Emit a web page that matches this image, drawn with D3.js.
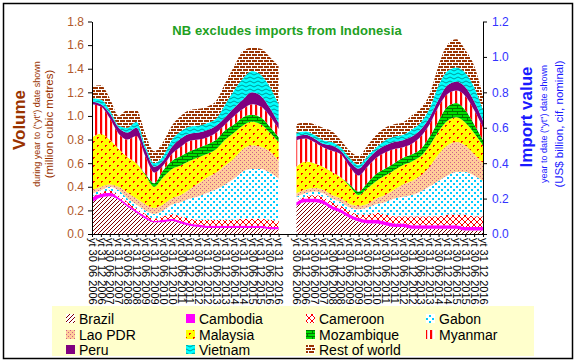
<!DOCTYPE html>
<html><head><meta charset="utf-8">
<script src="https://cdn.jsdelivr.net/npm/d3@7"></script>
<style>body{margin:0;background:#fff}svg{display:block}text{font-family:"Liberation Sans",Arial,sans-serif}</style>
</head><body><svg id="c" width="576" height="362"></svg>
<script>
// ---- DATA ----
const tickLabels = ["yt 30 06 2006","yt 31 12 2006","yt 30 06 2007","yt 31 12 2007","yt 30 06 2008","yt 31 12 2008","yt 30 06 2009","yt 31 12 2009","yt 30 06 2010","yt 31 12 2010","yt 30 06 2011","yt 31 12 2011","yt 30 06 2012","yt 31 12 2012","yt 30 06 2013","yt 31 12 2013","yt 30 06 2014","yt 31 12 2014","yt 30 06 2015","yt 31 12 2015","yt 30 06 2016","yt 31 12 2016"];
const seriesNames = ["Brazil","Cambodia","Cameroon","Gabon","Lao PDR","Malaysia","Mozambique","Myanmar","Peru","Vietnam","Rest of world"];
const volTicks = [0,0.2,0.4,0.6,0.8,1.0,1.2,1.4,1.6,1.8];
const valTicks = [0,0.2,0.4,0.6,0.8,1.0,1.2];

// Volume (million m3), year-to-date
const volBrazil     = [0.27,0.31,0.32,0.29,0.23,0.18,0.13,0.10,0.10,0.11,0.09,0.07,0.06,0.05,0.05,0.05,0.05,0.05,0.05,0.05,0.04,0.04];
const volCambodia   = [0.04,0.03,0.03,0.02,0.02,0.02,0.02,0.01,0.02,0.02,0.02,0.02,0.02,0.02,0.02,0.02,0.02,0.02,0.02,0.02,0.02,0.02];
const volCameroon   = [0.01,0.01,0.02,0.02,0.02,0.02,0.02,0.02,0.03,0.04,0.04,0.04,0.04,0.05,0.05,0.05,0.05,0.06,0.06,0.06,0.06,0.05];
const volGabon      = [0.02,0.02,0.03,0.04,0.03,0.03,0.03,0.04,0.05,0.08,0.12,0.17,0.20,0.23,0.26,0.30,0.35,0.40,0.42,0.42,0.40,0.36];
const volLao        = [0.03,0.03,0.02,0.03,0.05,0.05,0.05,0.05,0.05,0.05,0.06,0.08,0.11,0.13,0.14,0.16,0.17,0.19,0.20,0.19,0.18,0.15];
const volMalaysia   = [0.45,0.45,0.38,0.32,0.30,0.30,0.25,0.18,0.23,0.25,0.25,0.24,0.22,0.20,0.20,0.22,0.22,0.20,0.20,0.19,0.16,0.16];
const volMozambique = [0,0,0,0,0,0,0.01,0.03,0.06,0.07,0.08,0.08,0.08,0.08,0.08,0.08,0.07,0.07,0.06,0.06,0.05,0.04];
const volMyanmar    = [0.28,0.23,0.18,0.13,0.15,0.23,0.15,0.09,0.04,0.06,0.08,0.09,0.07,0.06,0.06,0.05,0.07,0.07,0.09,0.09,0.09,0.07];
const volPeru       = [0.02,0.02,0.04,0.05,0.06,0.07,0.06,0.05,0.04,0.06,0.07,0.06,0.06,0.06,0.06,0.06,0.07,0.08,0.10,0.09,0.07,0.05];
const volVietnam    = [0.03,0.04,0.03,0.02,0.04,0.05,0.03,0.03,0.04,0.06,0.06,0.06,0.06,0.06,0.06,0.11,0.15,0.18,0.18,0.18,0.18,0.16];
const volRest       = [0.10,0.12,0.10,0.08,0.15,0.10,0.10,0.10,0.12,0.12,0.13,0.14,0.14,0.14,0.15,0.18,0.20,0.23,0.20,0.22,0.25,0.32];

// Import value (US$ billion), year-to-date
const valBrazil     = [0.16,0.18,0.18,0.17,0.14,0.12,0.09,0.07,0.06,0.06,0.05,0.04,0.04,0.03,0.03,0.03,0.03,0.03,0.03,0.02,0.02,0.02];
const valCambodia   = [0.02,0.02,0.02,0.02,0.02,0.02,0.02,0.02,0.02,0.02,0.02,0.02,0.02,0.02,0.02,0.02,0.02,0.02,0.02,0.02,0.02,0.02];
const valCameroon   = [0.01,0.01,0.02,0.02,0.02,0.02,0.02,0.02,0.03,0.04,0.04,0.04,0.04,0.05,0.05,0.05,0.05,0.06,0.06,0.07,0.06,0.06];
const valGabon      = [0.02,0.02,0.02,0.02,0.02,0.02,0.02,0.03,0.04,0.05,0.07,0.10,0.11,0.12,0.14,0.17,0.20,0.22,0.24,0.24,0.23,0.20];
const valLao        = [0.02,0.02,0.02,0.02,0.02,0.02,0.02,0.02,0.02,0.03,0.04,0.05,0.07,0.08,0.09,0.11,0.15,0.17,0.17,0.15,0.12,0.10];
const valMalaysia   = [0.15,0.16,0.14,0.13,0.13,0.12,0.10,0.06,0.09,0.10,0.11,0.11,0.11,0.11,0.11,0.12,0.13,0.14,0.14,0.13,0.12,0.10];
const valMozambique = [0,0,0,0,0,0,0.01,0.02,0.03,0.04,0.04,0.04,0.04,0.04,0.04,0.05,0.06,0.08,0.08,0.07,0.05,0.03];
const valMyanmar    = [0.15,0.13,0.12,0.11,0.12,0.13,0.10,0.09,0.09,0.09,0.09,0.08,0.06,0.06,0.07,0.07,0.08,0.07,0.07,0.08,0.08,0.07];
const valPeru       = [0.02,0.02,0.02,0.02,0.03,0.02,0.03,0.04,0.04,0.04,0.04,0.04,0.04,0.04,0.04,0.04,0.04,0.05,0.05,0.05,0.05,0.04];
const valVietnam    = [0.02,0.02,0.02,0.02,0.02,0.02,0.02,0.02,0.02,0.02,0.03,0.03,0.03,0.04,0.04,0.05,0.08,0.08,0.08,0.08,0.08,0.06];
const valRest       = [0.05,0.05,0.06,0.07,0.06,0.04,0.04,0.05,0.06,0.07,0.07,0.07,0.07,0.08,0.08,0.08,0.11,0.15,0.16,0.13,0.12,0.08];

const volSeries = [volBrazil,volCambodia,volCameroon,volGabon,volLao,volMalaysia,volMozambique,volMyanmar,volPeru,volVietnam,volRest];
const valSeries = [valBrazil,valCambodia,valCameroon,valGabon,valLao,valMalaysia,valMozambique,valMyanmar,valPeru,valVietnam,valRest];

// ---- CHART ----
const svg = d3.select("#c");
const defs = svg.append("defs");
function pat(id,w,h,bg,draw){
  const p = defs.append("pattern").attr("id",id).attr("patternUnits","userSpaceOnUse").attr("width",w).attr("height",h);
  p.append("rect").attr("width",w).attr("height",h).attr("fill",bg);
  draw(p);
}
function px(p,pts,c){ pts.forEach(([a,b,w,h])=>p.append("rect").attr("x",a).attr("y",b).attr("width",w||1).attr("height",h||1).attr("fill",c)); }
pat("pBrazil",4,4,"#fff",p=>{
  p.append("path").attr("d","M0,4L4,0M-1,1L1,-1M3,5L5,3").attr("stroke","#800000").attr("stroke-width",1);
});
pat("pCambodia",4,4,"#ff00ff",p=>{});
pat("pCameroon",6,6,"#fff",p=>{
  p.append("path").attr("d","M0,3L3,0L6,3L3,6Z").attr("fill","none").attr("stroke","#ff0000").attr("stroke-width",1);
});
pat("pGabon",6,6,"#fff",p=>{ px(p,[[0,0,2,2],[3,3,2,2]],"#00ccff"); });
pat("pLao",4,4,"#ffcc99",p=>{ px(p,[[0,0],[2,2]],"#cc5c8c"); });
pat("pMalaysia",8,8,"#ffff00",p=>{ px(p,[[1,1,1,2],[2,1],[5,5,1,2],[6,5]],"#ff0000"); });
pat("pMozambique",10,6,"#00dd00",p=>{
  p.append("path").attr("d","M0,0.5H10M0,3.5H10M2.5,0V3M7.5,3V6").attr("stroke","#007700").attr("stroke-width",1).attr("fill","none");
});
pat("pMyanmar",5,4,"#fff",p=>{ px(p,[[0,0,2.2,4]],"#ff0000"); });
pat("pPeru",4,4,"#800080",p=>{});
pat("pVietnam",8,4,"#00ffff",p=>{
  p.append("path").attr("d","M0,2Q2,0 4,2T8,2").attr("stroke","#009999").attr("stroke-width",1).attr("fill","none");
});
pat("pRest",6,6,"#fff",p=>{ px(p,[[0,0,5,2],[3,3,3,2],[0,3,2,2]],"#993300"); });
const fills = ["pBrazil","pCambodia","pCameroon","pGabon","pLao","pMalaysia","pMozambique","pMyanmar","pPeru","pVietnam","pRest"].map(d=>`url(#${d})`);

// outer frame
svg.append("rect").attr("x",3.5).attr("y",3.5).attr("width",569).attr("height",355).attr("fill","#fff").attr("stroke","#000").attr("stroke-width",1.5);

const x0 = 92, x1 = 483, yTop = 21.5, yBot = 234;
const keysA = tickLabels.map(d=>"A|"+d), keysB = tickLabels.map(d=>"B|"+d);
const xKeys = [...keysA, "gap", ...keysB];
const x = d3.scalePoint().domain(xKeys).range([x0,x1]);
const yVol = d3.scaleLinear().domain([0,1.8]).range([yBot,yTop]);
const yVal = d3.scaleLinear().domain([0,1.2]).range([yBot,yTop]);

function drawPanel(series, keys, y){
  const rows = keys.map((k,i)=>{const o={key:k}; seriesNames.forEach((s,j)=>o[s]=series[j][i]); return o;});
  const st = d3.stack().keys(seriesNames)(rows);
  const area = d3.area().x(d=>x(d.data.key)).y0(d=>y(d[0])).y1(d=>y(d[1])).curve(d3.curveMonotoneX);
  svg.append("g").selectAll("path").data(st).join("path").attr("d",area).attr("fill",(d,i)=>fills[i]);
}
drawPanel(volSeries, keysA, yVol);
drawPanel(valSeries, keysB, yVal);

// axes
const gl = svg.append("g").attr("transform",`translate(${x0},0)`)
  .call(d3.axisLeft(yVol).tickValues(volTicks).tickFormat(d3.format(".1f")).tickSize(4).tickSizeOuter(0));
gl.select(".domain").attr("stroke","#000");
gl.selectAll("text").attr("fill","#b0582a").style("font-size","12px").attr("x",-8);
const gr = svg.append("g").attr("transform",`translate(${x1},0)`)
  .call(d3.axisRight(yVal).tickValues(valTicks).tickFormat(d3.format(".1f")).tickSize(4).tickSizeOuter(0));
gr.selectAll("text").attr("fill","#3333ff").style("font-size","12px").attr("x",9);
const gx = svg.append("g").attr("transform",`translate(0,${yBot})`)
  .call(d3.axisBottom(x).tickSize(3).tickSizeOuter(0).tickFormat(d=>d==="gap"?"":d.slice(2)));
gx.select(".domain").attr("d",`M${x0},0.5H${x1}`);
gx.selectAll("text").attr("transform","rotate(90)").attr("x",4).attr("y",0).attr("dy","0.35em")
  .style("text-anchor","start").style("font-size","11px").attr("fill","#000");

// titles
svg.append("text").attr("x",287).attr("y",35).attr("text-anchor","middle").attr("fill","#22a022")
  .style("font-size","13px").style("letter-spacing","0.1px").style("font-weight","bold").text("NB excludes imports from Indonesia");
const lt = svg.append("g").attr("fill","#993300");
lt.append("text").attr("transform","translate(25,120) rotate(-90)").attr("text-anchor","middle").style("font-size","17px").style("font-weight","bold").text("Volume");
lt.append("text").attr("transform","translate(40,124) rotate(-90)").attr("text-anchor","middle").style("font-size","9px").text("during year to (\"yt\") date shown");
lt.append("text").attr("transform","translate(53,124) rotate(-90)").attr("text-anchor","middle").style("font-size","11.5px").text("(million cubic metres)");
const rt = svg.append("g").attr("fill","#1a1aff");
rt.append("text").attr("transform","translate(532,117) rotate(-90)").attr("text-anchor","middle").style("font-size","17px").style("font-weight","bold").text("Import value");
rt.append("text").attr("transform","translate(547,124) rotate(-90)").attr("text-anchor","middle").style("font-size","9px").text("year to date (\"yt\") date shown");
rt.append("text").attr("transform","translate(563,124) rotate(-90)").attr("text-anchor","middle").style("font-size","11.5px").text("(US$ billion, cif, nominal)");

// legend
const lg = svg.append("g");
lg.append("rect").attr("x",52).attr("y",306).attr("width",482).attr("height",50).attr("fill","#ffffcc");
const colX = [66,186,306,426], rowY = [319,335,350];
seriesNames.forEach((s,i)=>{
  const cx = colX[i%4], cy = rowY[Math.floor(i/4)];
  lg.append("rect").attr("x",cx).attr("y",cy-5).attr("width",9).attr("height",9).attr("fill",fills[i]);
  lg.append("text").attr("x",cx+13).attr("y",cy).attr("dy","0.35em").style("font-size","14px").attr("fill","#000").text(s);
});
</script></body></html>
